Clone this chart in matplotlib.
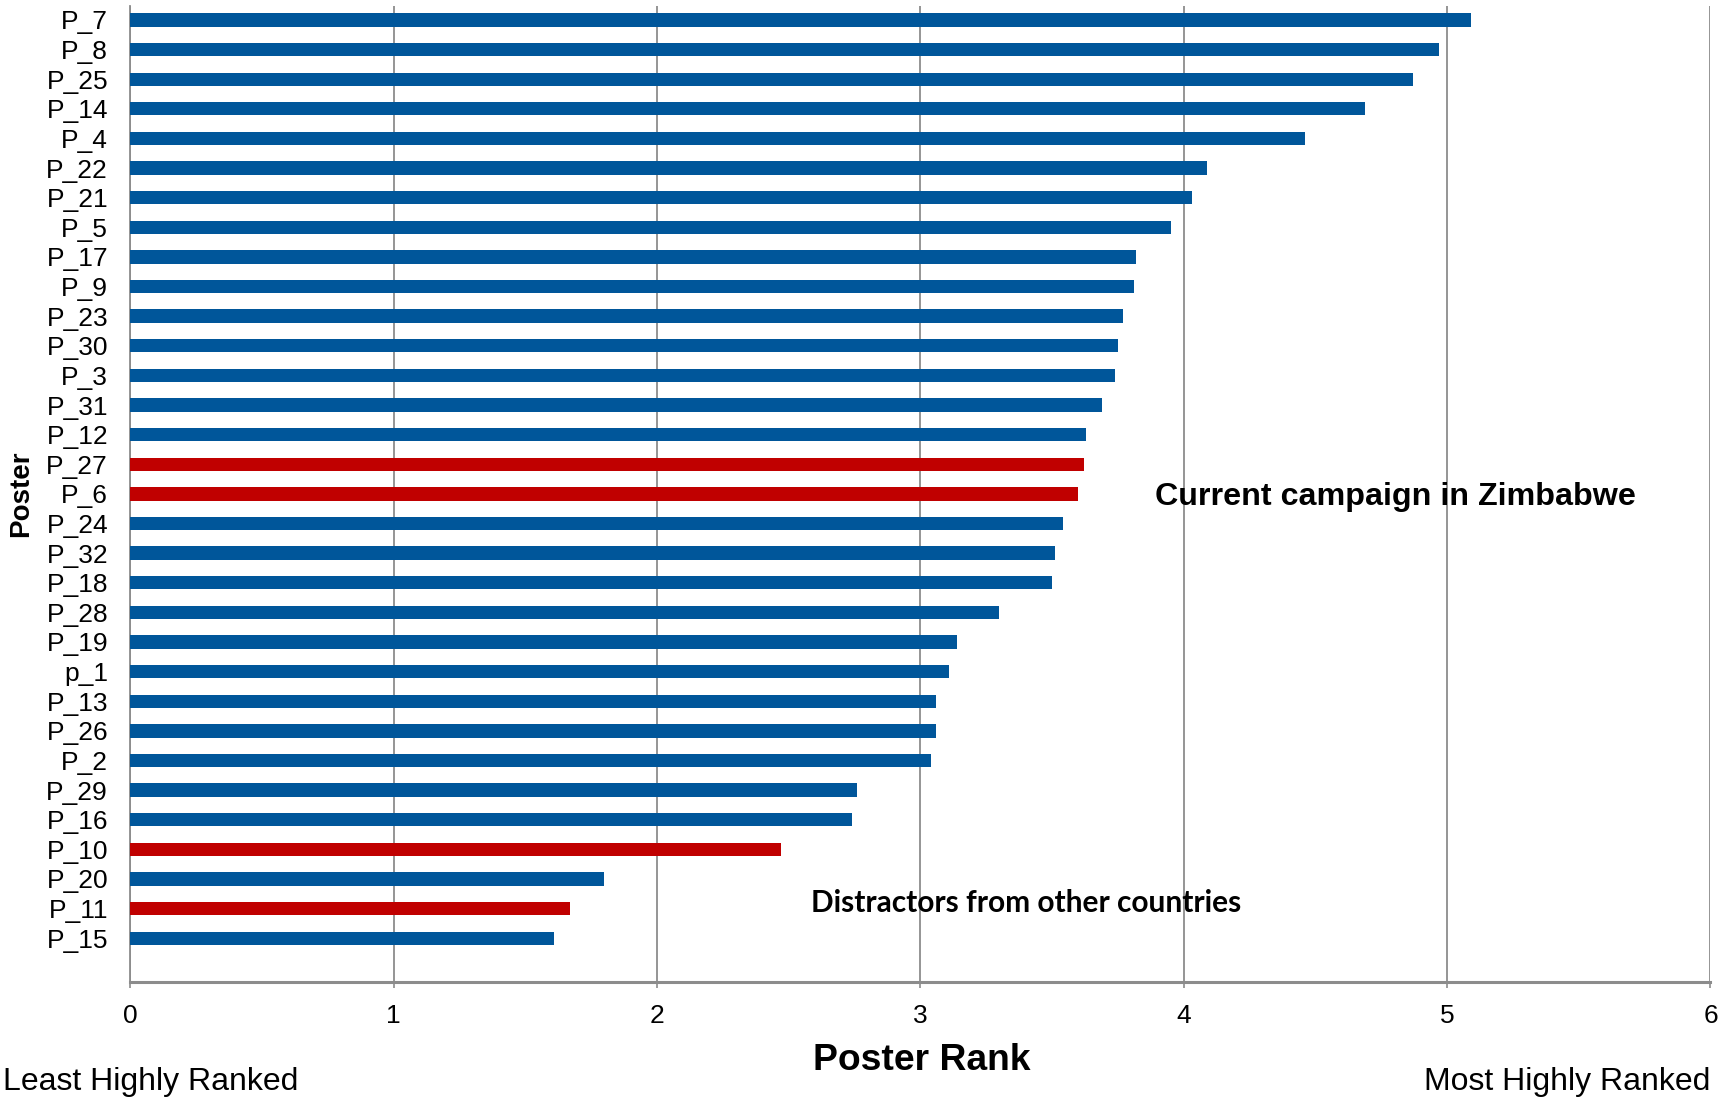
import matplotlib
matplotlib.use("Agg")
import matplotlib.pyplot as plt

# poster labels, top to bottom, with mean rank
posters = ["P_7", "P_8", "P_25", "P_14", "P_4", "P_22", "P_21", "P_5", "P_17", "P_9",
           "P_23", "P_30", "P_3", "P_31", "P_12", "P_27", "P_6", "P_24", "P_32", "P_18",
           "P_28", "P_19", "p_1", "P_13", "P_26", "P_2", "P_29", "P_16", "P_10", "P_20",
           "P_11", "P_15"]
ranks = [5.09, 4.97, 4.87, 4.69, 4.46, 4.09, 4.03, 3.95, 3.82, 3.81,
         3.77, 3.75, 3.74, 3.69, 3.63, 3.62, 3.60, 3.54, 3.51, 3.50,
         3.30, 3.14, 3.11, 3.06, 3.06, 3.04, 2.76, 2.74, 2.47, 1.80,
         1.67, 1.61]
# current Zimbabwe campaign posters are highlighted
current = ["P_27", "P_6", "P_10", "P_11"]

BLUE = "#00569A"
RED = "#C00000"
GRID = "#8C8C8C"

plt.rcParams["font.family"] = ["Liberation Sans", "DejaVu Sans"]

fig = plt.figure(figsize=(17.33, 10.97), dpi=100)
ax = fig.add_axes([0.0752, 0.1048, 0.9118, 0.8897])

ypos = list(range(len(posters)))
colors = [RED if p in current else BLUE for p in posters]
ax.barh(ypos, ranks, height=0.45, color=colors, zorder=3)

ax.set_xlim(0, 6)
ax.set_ylim(32.48, -0.47)
ax.set_yticks(ypos)
ax.set_yticklabels(posters, fontsize=19)
ax.set_xticks(range(7))
ax.tick_params(axis="y", length=0, pad=16)
ax.tick_params(axis="x", length=4, width=1.2, color=GRID, labelsize=19, pad=12)

ax.grid(axis="x", color=GRID, linewidth=1.3, zorder=0)
for side in ["top", "right"]:
    ax.spines[side].set_visible(False)
ax.spines["left"].set_color(GRID)
ax.spines["left"].set_linewidth(1.3)
ax.spines["bottom"].set_color(GRID)
ax.spines["bottom"].set_linewidth(2.2)

ax.set_ylabel("Poster", fontsize=20, fontweight="bold")
ax.yaxis.set_label_coords(-0.061, 0.5)

fig.text(0.532, 0.033, "Poster Rank", fontsize=26.8, fontweight="bold",
         ha="center", va="center")
fig.text(0.002, 0.014, "Least Highly Ranked", fontsize=23, ha="left", va="center")
fig.text(0.987, 0.014, "Most Highly Ranked", fontsize=23, ha="right", va="center")

ax.text(3.89, 16.12, "Current campaign in Zimbabwe", fontsize=23.2, fontweight="bold",
        ha="left", va="center", zorder=4)
ax.text(2.585, 29.8, "Distractors from other countries", fontsize=21.5, fontweight="bold",
        family=["Lato", "DejaVu Sans"], ha="left", va="center", zorder=4)

fig.savefig("out.png", dpi=100)
